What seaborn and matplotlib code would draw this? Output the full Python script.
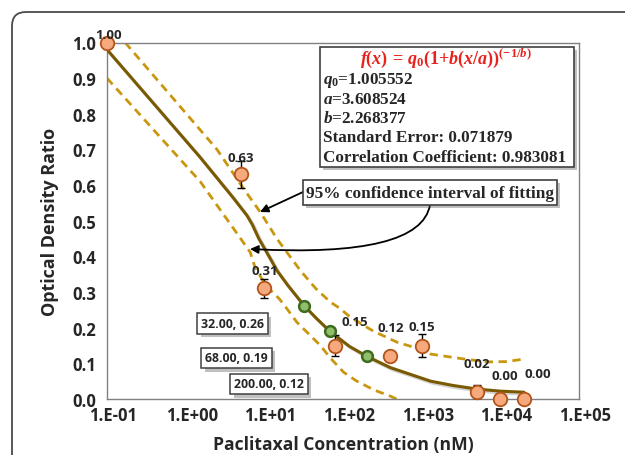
import matplotlib
matplotlib.use("Agg")
import matplotlib.pyplot as plt
import matplotlib.patheffects as pe
from matplotlib.patches import Rectangle, FancyBboxPatch
from matplotlib.transforms import IdentityTransform, ScaledTranslation
from matplotlib.ticker import LogLocator, NullFormatter
import seaborn as sns

# ---- data ----
conc = [0.1, 5, 10, 80, 400, 1000, 5000, 10000, 20000]
od_ratio = [1.00, 0.63, 0.31, 0.15, 0.12, 0.15, 0.02, 0.00, 0.00]
od_err = [0, 0.037, 0.028, 0.03, 0, 0.031, 0.018, 0, 0]

fit_pts_x = [32, 68, 200]
fit_pts_y = [0.26, 0.19, 0.12]

fit_x = [0.1, 1.5, 4.0, 6.0, 7.0, 8.5, 10.8, 14.5, 20, 32, 45, 68, 120, 200,
         400, 700, 1300, 2500, 5000, 10000, 20000]
fit_y = [0.98, 0.68, 0.565, 0.515, 0.49, 0.45, 0.41, 0.36, 0.318, 0.262, 0.228,
         0.19, 0.148, 0.12, 0.088, 0.07, 0.05, 0.038, 0.028, 0.022, 0.019]

upper_x = [0.17, 2.5, 5.45, 8.9, 14.5, 28.8, 45, 69, 93, 117, 185, 245, 490,
           720, 1300, 3500, 7000, 12000, 20000]
upper_y = [1.0, 0.70, 0.59, 0.524, 0.449, 0.36, 0.31, 0.272, 0.253, 0.234,
           0.206, 0.19, 0.159, 0.148, 0.126, 0.112, 0.104, 0.105, 0.112]

lower_x = [0.1, 1.53, 4.06, 6.6, 7.6, 9.3, 12, 15.5, 19.4, 26, 38.5, 51.6, 69,
           102, 150, 250, 400, 600]
lower_y = [0.90, 0.61, 0.478, 0.412, 0.37, 0.337, 0.305, 0.281, 0.253, 0.215,
           0.178, 0.15, 0.115, 0.075, 0.05, 0.025, 0.008, -0.01]

x_ticks = [0.1, 1, 10, 100, 1000, 10000, 100000]
x_tick_labels = ["1.E-01", "1.E+00", "1.E+01", "1.E+02", "1.E+03", "1.E+04", "1.E+05"]
y_ticks = [0.0, 0.1, 0.2, 0.3, 0.4, 0.5, 0.6, 0.7, 0.8, 0.9, 1.0]

fit_params = ["1.005552", "3.608524", "2.268377"]
std_err = "0.071879"
corr_coef = "0.983081"

# ---- style ----
sns.set_style("white")
plt.rcParams['font.family'] = ['Open Sans', 'DejaVu Sans']
plt.rcParams['font.weight'] = 'bold'
plt.rcParams['mathtext.fontset'] = 'custom'
plt.rcParams['mathtext.rm'] = 'Liberation Serif:bold'
plt.rcParams['mathtext.it'] = 'Liberation Serif:italic:bold'
plt.rcParams['mathtext.bf'] = 'Liberation Serif:bold'

W, H = 625, 456
fig = plt.figure(figsize=(W / 100, H / 100), dpi=100)
ax = fig.add_axes([107 / W, 1 - 400 / H, (579 - 107) / W, (400 - 43.5) / H])

def fx(px):
    return px / W

def fy(py):
    return 1 - py / H

fit_col = "#7a5a00"
band_col = "#c9970f"
shadow = [pe.SimpleLineShadow(offset=(1.5, -1.5), shadow_color='gray', alpha=0.35), pe.Normal()]

# confidence bands + fitted curve
sns.lineplot(x=upper_x, y=upper_y, ax=ax, color=band_col, lw=2, linestyle=(0, (3, 2)),
             sort=False, estimator=None, zorder=2)
sns.lineplot(x=lower_x, y=lower_y, ax=ax, color=band_col, lw=2, linestyle=(0, (3, 2)),
             sort=False, estimator=None, zorder=2)
sns.lineplot(x=fit_x, y=fit_y, ax=ax, color=fit_col, lw=2.2, sort=False,
             estimator=None, zorder=3, path_effects=shadow)

# error bars
ax.errorbar(conc, od_ratio, yerr=od_err, fmt='none', ecolor='black', elinewidth=1,
            capsize=3, capthick=1, zorder=4, clip_on=False)

# points
sns.scatterplot(x=fit_pts_x, y=fit_pts_y, ax=ax, s=60, color="#8fbf6a",
                edgecolor="#3e6b1f", linewidth=1.8, zorder=5, clip_on=False)
sns.scatterplot(x=conc, y=od_ratio, ax=ax, s=95, color="#f6a97c",
                edgecolor="#b3541a", linewidth=1.3, zorder=5, clip_on=False)

# data labels (offsets in pixels)
label_offsets = [(2, 8), (0, 17), (0, 18), (19, 24), (0, 29), (0, 19), (0, 28), (4, 23), (14, 25)]
for xv, yv, (dx, dy) in zip(conc, od_ratio, label_offsets):
    ax.annotate(f"{yv:.2f}", xy=(xv, yv), xytext=(dx * 0.72, dy * 0.72),
                textcoords="offset points", ha='center', va='center',
                fontsize=9.5, fontweight='bold', zorder=6, annotation_clip=False)

# axes
ax.set_xscale('log')
ax.set_xlim(0.1, 1e5)
ax.set_ylim(0, 1.0)
ax.set_xticks(x_ticks)
ax.set_xticklabels(x_tick_labels)
ax.xaxis.set_minor_locator(LogLocator(base=10, subs=range(2, 10), numticks=20))
ax.xaxis.set_minor_formatter(NullFormatter())
ax.set_yticks(y_ticks)
ax.set_yticklabels([f"{v:.1f}" for v in y_ticks])
ax.tick_params(axis='x', which='both', direction='in', length=4, width=1,
               color='#808080', labelsize=12, pad=5)
ax.tick_params(axis='y', which='major', direction='out', length=6, width=1,
               color='#808080', labelsize=12, pad=2)
ax.tick_params(axis='y', which='minor', left=False)
for lbl in ax.get_xticklabels():
    lbl.set_transform(lbl.get_transform() + ScaledTranslation(6 / 100, 0, fig.dpi_scale_trans))
for sp in ax.spines.values():
    sp.set_color('#808080')
    sp.set_linewidth(1)

ax.set_xlabel("Paclitaxal Concentration (nM)", fontsize=12.6, fontweight='bold', labelpad=8)
ax.set_ylabel("Optical Density Ratio", fontsize=13, fontweight='bold', labelpad=9)

# outer rounded frame
frame = FancyBboxPatch((12, -30), 660, H - 13 + 30, boxstyle="round,pad=0,rounding_size=14",
                       transform=IdentityTransform(), fill=False, edgecolor='#4a4a4a', lw=1.3)
fig.add_artist(frame)

box_shadow = [pe.SimplePatchShadow(offset=(2.5, -2.5), alpha=0.35), pe.Normal()]
serif = ['Liberation Serif', 'DejaVu Serif']

# formula box
fbox = Rectangle((fx(320), fy(168)), fx(574) - fx(320), fy(48) - fy(168),
                 transform=fig.transFigure, facecolor='white', edgecolor='#404040',
                 lw=1.2, zorder=10, path_effects=box_shadow)
fig.add_artist(fbox)
fig.text(fx(446), fy(58.5), r"$f(x)\,=\,q_0(1{+}b(x/a))^{(-1/b)}$", color='#e8211d',
         fontsize=13, ha='center', va='center', zorder=11)
info_lines = [r"$q_0$=" + fit_params[0], r"$a$=" + fit_params[1], r"$b$=" + fit_params[2],
              "Standard Error: " + std_err, "Correlation Coefficient: " + corr_coef]
for i, line in enumerate(info_lines):
    fig.text(fx(323.5), fy(80 + 19.5 * i), line, family=serif, fontweight='bold',
             fontsize=12.3, ha='left', va='center', zorder=11)

# confidence interval callout
cbox = Rectangle((fx(303), fy(206)), fx(557) - fx(303), fy(181) - fy(206),
                 transform=fig.transFigure, facecolor='white', edgecolor='#404040',
                 lw=1.2, zorder=10, path_effects=box_shadow)
fig.add_artist(cbox)
fig.text(fx(430), fy(193.5), "95% confidence interval of fitting", family=serif,
         fontweight='bold', fontsize=12.4, ha='center', va='center', zorder=11)
ax.annotate("", xy=(fx(260), fy(213)), xycoords='figure fraction',
            xytext=(fx(303), fy(193)), textcoords='figure fraction',
            arrowprops=dict(arrowstyle='-|>', color='black', lw=1.3, mutation_scale=12,
                            shrinkA=0, shrinkB=0), zorder=9)
ax.annotate("", xy=(fx(250), fy(250)), xycoords='figure fraction',
            xytext=(fx(430), fy(206)), textcoords='figure fraction',
            arrowprops=dict(arrowstyle='-|>', color='black', lw=1.3, mutation_scale=12,
                            shrinkA=0, shrinkB=0,
                            connectionstyle="angle3,angleA=80,angleB=-3"), zorder=9)

# callout boxes for fitted points
callout_pos = [(232.5, 324.5), (236.5, 359), (269, 385)]
for (px, py), xv, yv in zip(callout_pos, fit_pts_x, fit_pts_y):
    t = fig.text(fx(px), fy(py), f"{xv:.2f}, {yv:.2f}", fontsize=8.8, fontweight='bold',
                 ha='center', va='center', zorder=11,
                 bbox=dict(boxstyle='square,pad=0.32', facecolor='white',
                           edgecolor='#404040', lw=1.1))
    t.get_bbox_patch().set_path_effects(box_shadow)

fig.savefig("out.png", dpi=100, facecolor='white')
